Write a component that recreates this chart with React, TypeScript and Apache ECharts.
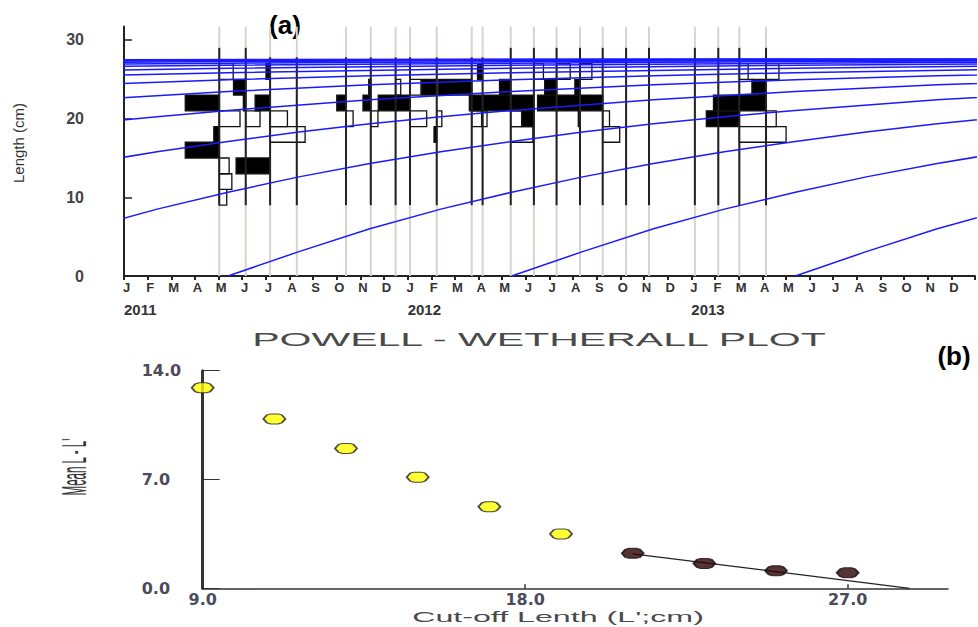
import React, { useEffect, useRef } from 'react';
import * as echarts from 'echarts';

// ---------- Panel (a): restructured length-frequency data ----------
const monthLetters = ['J', 'F', 'M', 'A', 'M', 'J', 'J', 'A', 'S', 'O', 'N', 'D'];
const yearLabels = ['2011', '2012', '2013'];
const lengthTicks = [0, 10, 20, 30];

// sampling dates, in months from January 2011
const sampleMonths = [4.03, 5.15, 6.18, 7.31, 9.39, 10.44, 11.49, 12.1, 13.23, 14.71, 15.17,
  16.36, 17.34, 18.3, 19.29, 20.25, 21.24, 22.21, 24.15, 25.14, 26.03, 27.16];
// upper end of each sample's black line (cm)
const sampleTops = [29, 29, 27.8, 27.8, 27.8, 27.8, 27.8, 27.8, 27.8, 27.8, 27.8,
  29, 29, 29, 29, 29, 29, 29, 29, 29, 29, 29];
// lower edges of the 2-cm length classes
const binLows = [9, 11, 13, 15, 17, 19, 21, 23, 25, 27];
// restructured scores per sample (positive = black peak, negative = white trough)
const scores = [
  [-0.22, -0.37, -0.29, 1.0, 0.16, -0.61, 1.0, 0, -0.41, 0],
  [0, 0, 0, 0, 0, -0.42, 0.07, 0.36, 0, 0],
  [0, 0, 1.0, 0, -1.03, -0.51, 0.44, 0, 0.12, 0],
  [0, 0, 0, 0, 0, 0, 0, 0, 0, 0],
  [0, 0, 0, 0, 0, -0.21, 0.27, 0, 0, 0],
  [0, 0, 0, 0, 0, -0.21, 0.23, 0.06, 0, 0],
  [0, 0, 0, 0, 0, 0, 0.51, -0.15, 0, 0],
  [0, 0, 0, 0, 0, -0.49, 0.42, -0.32, 0, 0],
  [0, 0, 0, 0, 0.08, -0.15, 0, 0.44, 0, 0],
  [0, 0, 0, 0, 0, -0.29, 0.07, 0.98, 0, 0],
  [0, 0, 0, 0, 0, -0.13, 0.32, 0, 0.15, 0],
  [0, 0, 0, 0, -0.65, -0.32, 0.82, 0.33, 0, 0],
  [0, 0, 0, 0, 0, 0.35, 0.66, 0, -0.28, 0],
  [0, 0, 0, 0, 0, 0, 0.56, 0.35, -0.4, 0],
  [0, 0, 0, 0, 0, 0.05, 0.69, 0.15, -0.35, 0],
  [0, 0, 0, 0, -0.5, -0.2, 0.67, 0, 0, 0],
  [0, 0, 0, 0, 0, 0, 0, 0, 0, 0],
  [0, 0, 0, 0, 0, 0, 0, 0, 0, 0],
  [0, 0, 0, 0, 0, 0, 0, 0, 0, 0],
  [0, 0, 0, 0, 0, 0, 0, 0, 0, 0],
  [0, 0, 0, 0, -0.78, 0.97, 0.76, -0.38, -0.26, 0],
  [0, 0, 0, 0, -0.59, -0.3, 0.8, 0.41, -0.38, 0],
];

// growth curve: age (months) -> length (cm)
const growthAges = [0, 3, 6, 9, 12, 15, 18, 21, 24, 27, 30, 33, 36, 42, 48, 54, 60, 66, 72, 84, 96,
  108, 120, 132, 144, 168, 192];
const growthLengths = [0, 3.1, 6.0, 8.5, 10.65, 12.6, 14.3, 15.8, 17.1, 18.3, 19.35, 20.25, 21.05,
  22.4, 23.45, 24.3, 24.95, 25.45, 25.85, 26.4, 26.8, 27.05, 27.25, 27.38, 27.46, 27.55, 27.6];
// month (from Jan 2011) at which each cohort curve starts at zero length
const cohortBirths = [28.4, 16.4, 4.4, -7.6, -19.6, -31.6, -43.6, -55.6, -67.6, -79.6, -91.6,
  -103.6, -115.6, -127.6, -139.6, -151.6];

// ---------- Panel (b): Powell-Wetherall plot ----------
const pwTicksX = [9, 18, 27];
const cutoffYellow = [9, 11, 13, 15, 17, 19];
const meanYellow = [12.9, 10.9, 9.0, 7.15, 5.25, 3.5];
const cutoffDark = [21, 23, 25, 27];
const meanDark = [2.25, 1.6, 1.13, 1.0];
const regressionX = [21, 28.73];
const regressionY = [2.22, 0];

const Y_MAX_A = 31.7;
const BIN_WIDTH = 2;
const BAR_SCALE = 34 / 23.64; // months of width per unit score

const HEX = 'path://M0,5L4,1L8,0L16,0L20,1L24,5L20,9L16,10L8,10L4,9Z';

export default function App() {
  const ref = useRef<HTMLDivElement>(null);

  useEffect(() => {
    const chart = echarts.init(ref.current as HTMLDivElement, null, { renderer: 'svg' });

    const negData: number[][] = [];
    const posData: number[][] = [];
    sampleMonths.forEach((t, i) => {
      scores[i].forEach((s, j) => {
        if (s < 0) negData.push([t, binLows[j], s]);
        else if (s > 0) posData.push([t, binLows[j], s]);
      });
    });
    const grayData = sampleMonths.map((t) => [t, 0, Y_MAX_A]);
    const blackData = sampleMonths.map((t, i) => [t, binLows[0], sampleTops[i]]);

    const barRender = (params: any, api: any) => {
      const t = api.value(0);
      const lo = api.value(1);
      const s = api.value(2);
      const a = api.coord([t, lo + BIN_WIDTH]);
      const b = api.coord([t - s * BAR_SCALE, lo]);
      return {
        type: 'rect',
        shape: {
          x: Math.min(a[0], b[0]),
          y: Math.min(a[1], b[1]),
          width: Math.abs(b[0] - a[0]),
          height: Math.abs(b[1] - a[1]),
        },
        style: { fill: s > 0 ? '#000' : '#fff', stroke: '#111', lineWidth: 1.3 },
      };
    };
    const vlineRender = (color: string, width: number) => (params: any, api: any) => {
      const p1 = api.coord([api.value(0), api.value(1)]);
      const p2 = api.coord([api.value(0), api.value(2)]);
      return {
        type: 'line',
        shape: { x1: p1[0], y1: p1[1], x2: p2[0], y2: p2[1] },
        style: { stroke: color, lineWidth: width },
      };
    };

    const curveSeries = cohortBirths.map((b) => ({
      type: 'line',
      xAxisIndex: 0,
      yAxisIndex: 0,
      data: growthAges.map((a, k) => [b + a, growthLengths[k]]),
      smooth: false,
      showSymbol: false,
      symbol: 'none',
      clip: true,
      silent: true,
      z: 4,
      lineStyle: { color: '#1a1aff', width: 1.5 },
    }));

    const labelFont = 'Liberation Sans, Arial, sans-serif';

    chart.setOption({
      animation: false,
      backgroundColor: '#fff',
      grid: [
        { left: 124, right: 3, top: 276 - Y_MAX_A * 7.867, bottom: 351 },
        { left: 202.7, right: 30, top: 370.7, bottom: 38.7 },
      ],
      xAxis: [
        {
          type: 'value', gridIndex: 0, min: 0, max: 36, interval: 1,
          axisLine: { show: true, onZero: false, lineStyle: { color: '#222', width: 2 } },
          axisTick: { show: true, length: 4, lineStyle: { color: '#222', width: 2 } },
          axisLabel: {
            formatter: (v: number) => { const m = Math.round(v); return m < 36 ? monthLetters[m % 12] : ''; },
            color: '#333', fontWeight: 'bold', fontSize: 13, margin: 5, fontFamily: labelFont,
            padding: [0, 0, 0, 5],
          },
          splitLine: { show: false },
        },
        {
          type: 'value', gridIndex: 0, min: 0, max: 36, interval: 12, position: 'bottom', offset: 22,
          axisLine: { show: false }, axisTick: { show: false }, splitLine: { show: false },
          axisLabel: {
            formatter: (v: number) => yearLabels[Math.round(v / 12)] ?? '',
            align: 'left', color: '#333', fontWeight: 'bold', fontSize: 15, margin: 4, fontFamily: labelFont,
          },
        },
        {
          type: 'value', gridIndex: 1, min: 9, max: 29.8, interval: 9,
          axisLine: { show: true, onZero: false, lineStyle: { color: '#333', width: 1.5 } },
          axisTick: { show: true, inside: true, length: 4, customValues: pwTicksX, lineStyle: { color: '#333', width: 1.5 } },
          axisLabel: {
            customValues: pwTicksX,
            formatter: (v: number) => v.toFixed(1),
            color: '#4b4b5b', fontWeight: 'bold', fontSize: 16, margin: 3, fontFamily: 'DejaVu Sans',
          },
          splitLine: { show: false },
        },
      ],
      yAxis: [
        {
          type: 'value', gridIndex: 0, min: 0, max: Y_MAX_A, interval: 10, offset: 29,
          axisLine: { show: true, lineStyle: { color: '#222', width: 2 } },
          axisTick: { show: true, inside: true, length: 8, customValues: lengthTicks, lineStyle: { color: '#222', width: 1.5 } },
          axisLabel: {
            customValues: lengthTicks,
            color: '#444', fontWeight: 'bold', fontSize: 16, margin: 11, fontFamily: labelFont,
          },
          splitLine: { show: false },
        },
        {
          type: 'value', gridIndex: 1, min: 0, max: 14, interval: 7,
          axisLine: { show: true, lineStyle: { color: '#333', width: 3 } },
          axisTick: { show: true, inside: true, length: 17, lineStyle: { color: '#333', width: 1 } },
          axisLabel: {
            formatter: (v: number) => v.toFixed(1),
            align: 'left', margin: 61,
            color: '#4b4b5b', fontWeight: 'bold', fontSize: 16, fontFamily: 'DejaVu Sans',
          },
          splitLine: { show: false },
        },
      ],
      series: [
        {
          type: 'custom', xAxisIndex: 0, yAxisIndex: 0, data: grayData, z: 1, silent: true,
          encode: { x: 0, y: [1, 2] }, renderItem: vlineRender('#d8d4cb', 2),
        },
        {
          type: 'custom', xAxisIndex: 0, yAxisIndex: 0, data: negData, z: 2, silent: true,
          encode: { x: 0, y: 1 }, renderItem: barRender,
        },
        {
          type: 'custom', xAxisIndex: 0, yAxisIndex: 0, data: posData, z: 2, silent: true,
          encode: { x: 0, y: 1 }, renderItem: barRender,
        },
        {
          type: 'custom', xAxisIndex: 0, yAxisIndex: 0, data: blackData, z: 3, silent: true,
          encode: { x: 0, y: [1, 2] }, renderItem: vlineRender('#222', 2),
        },
        ...curveSeries,
        {
          type: 'line', xAxisIndex: 2, yAxisIndex: 1, z: 3,
          data: regressionX.map((x, i) => [x, regressionY[i]]),
          showSymbol: false, symbol: 'none', lineStyle: { color: '#222', width: 1.2 },
        },
        {
          type: 'scatter', xAxisIndex: 2, yAxisIndex: 1, z: 5, clip: false,
          data: cutoffYellow.map((x, i) => [x, meanYellow[i]]),
          symbol: HEX, symbolSize: [22, 10], symbolKeepAspect: false,
          itemStyle: { color: '#ffff00', borderColor: '#222', borderWidth: 1.5 },
        },
        {
          type: 'scatter', xAxisIndex: 2, yAxisIndex: 1, z: 5, clip: false,
          data: cutoffDark.map((x, i) => [x, meanDark[i]]),
          symbol: HEX, symbolSize: [22, 10], symbolKeepAspect: false,
          itemStyle: { color: '#2e0000', borderColor: '#111', borderWidth: 1.5 },
        },
      ],
      graphic: [
        {
          type: 'text', x: 285, y: 25,
          style: { text: '(a)', fontSize: 26, fontWeight: 'bold', fill: '#000', align: 'center', verticalAlign: 'middle', fontFamily: labelFont },
        },
        {
          type: 'text', x: 18, y: 143, rotation: Math.PI / 2,
          style: { text: 'Length (cm)', fontSize: 15, fill: '#333', align: 'center', verticalAlign: 'middle', fontFamily: labelFont },
        },
        {
          type: 'text', x: 539, y: 340, scaleX: 2.28,
          style: { text: 'POWELL - WETHERALL PLOT', fontSize: 18, fill: '#4a4a4a', align: 'center', verticalAlign: 'middle', fontFamily: labelFont },
        },
        {
          type: 'text', x: 954, y: 356,
          style: { text: '(b)', fontSize: 26, fontWeight: 'bold', fill: '#000', align: 'center', verticalAlign: 'middle', fontFamily: labelFont },
        },
        {
          type: 'text', x: 558, y: 617, scaleX: 2.3,
          style: { text: "Cut-off Lenth (L';cm)", fontSize: 14, fill: '#4a4a4a', align: 'center', verticalAlign: 'middle', fontFamily: labelFont },
        },
        {
          type: 'text', x: 74, y: 467, rotation: Math.PI / 2, scaleX: 1.05, scaleY: 3.2,
          style: { text: "Mean L - L'", fontSize: 11, fill: '#333', align: 'center', verticalAlign: 'middle', fontFamily: labelFont },
        },
      ],
    });

    return () => chart.dispose();
  }, []);

  return (
    <div
      ref={ref}
      style={{ position: 'absolute', left: 0, top: 0, width: 978, height: 627, background: '#fff' }}
    />
  );
}
